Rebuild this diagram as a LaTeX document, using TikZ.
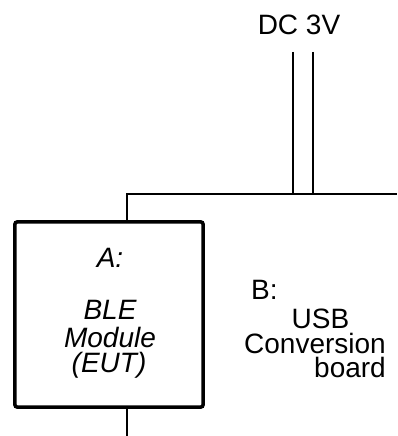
\documentclass[tikz,border=0pt]{standalone}
\usepackage{fontspec}
\setmainfont{Liberation Sans}
\begin{document}
\begin{tikzpicture}[x=1bp,y=-1bp,
  lbl/.style={font=\fontsize{28bp}{30bp}\selectfont, inner sep=0pt, anchor=base},
  ilbl/.style={lbl, font=\fontsize{28bp}{30bp}\selectfont\itshape},
  thinwire/.style={line width=1.3bp},
  thickwire/.style={line width=2.2bp},
  modbox/.style={draw, line width=3.5bp, rounded corners=2bp, minimum width=188bp, minimum height=185bp, inner sep=0pt}]
\useasboundingbox (0,0) rectangle (397,436);
\node[modbox] (A) at (109,314.5) {};
\node[ilbl] (a1) at (110,267) {A:};
\node[ilbl] (a2) at (110,319) {BLE};
\node[ilbl] (a3) at (110,347) {Module};
\node[ilbl] (a4) at (109,372) {(EUT)};
\node[lbl, anchor=base west] (b1) at (251,299) {B:};
\node[lbl] (b2) at (320.5,328) {USB};
\node[lbl, anchor=base east] (b3) at (386,353.5) {Conversion};
\node[lbl, anchor=base east] (b4) at (386,377.5) {board};
\node[lbl] (dc) at (299,35) {DC 3V};
\coordinate (tap) at (127,194);
\coordinate (rightend) at (397,194);
\coordinate (botend) at (127,436);
\coordinate (dcA) at (293.3,52);
\coordinate (dcB) at (313.3,52);
\draw[thinwire] (A.north -| tap) -- (tap) -- (rightend);
\draw[thinwire] (A.south -| tap) -- (botend);
\draw[thickwire] (dcA) -- (dcA |- tap);
\draw[thickwire] (dcB) -- (dcB |- tap);
\end{tikzpicture}
\end{document}
